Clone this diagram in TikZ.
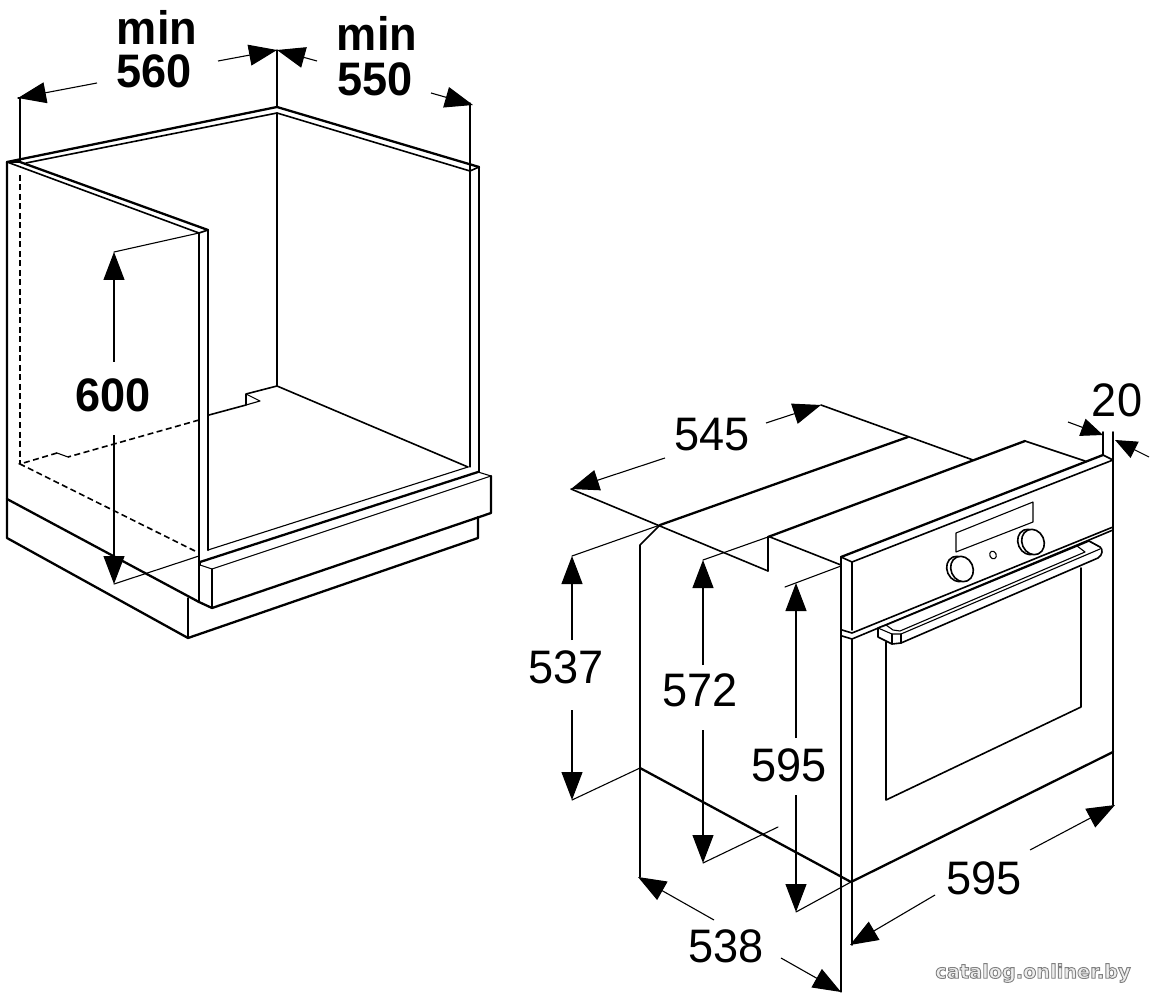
\documentclass[tikz,border=0pt]{standalone}
\usepackage{fontspec}
\setmainfont[FakeStretch=0.96]{Liberation Sans}
\newfontfamily\wmfont{DejaVu Sans}
\usetikzlibrary{arrows.meta}
\tikzset{
  thinl/.style={line width=1.1pt,black,line cap=round,line join=round},
  midl/.style={line width=1.6pt,black,line cap=round,line join=round},
  thickl/.style={line width=2.3pt,black,line cap=round,line join=round},
  dashl/.style={line width=1.6pt,black,dash pattern=on 6pt off 3.5pt},
  dimarrow/.style={line width=1.1pt,black,-{Triangle[length=28pt,width=21pt,sep=0pt]}},
  smallarrow/.style={line width=1.1pt,black,-{Triangle[length=22pt,width=18pt,sep=0pt]}},
  lab/.style={font=\fontsize{47}{47}\selectfont,inner sep=0pt,black},
  blab/.style={font=\fontsize{47}{47}\selectfont\bfseries,inner sep=0pt,black},
  wmtext/.style={inner sep=0pt,font=\wmfont\bfseries\fontsize{19.3}{19.3}\selectfont},
}
\begin{document}
\begin{tikzpicture}[x=1pt,y=-1pt]
\useasboundingbox[fill=white] (0,0) rectangle (1152,1000);

% --- cabinet ---
\draw[thickl] (7,162) -- (277,107) -- (479,167);
\draw[midl] (26,163) -- (277,113) -- (470,171);
\draw[thickl] (20,162) -- (208,230);
\draw[midl] (7,162) -- (199,233);
\draw[midl] (7,162) -- (20,162);
\draw[thickl] (7,162) -- (7,538) -- (188,638) -- (478,538) -- (478,517);
\draw[thickl] (199,233) -- (199,602);
\draw[thickl] (208,230) -- (208,550);
\draw[midl] (199,233) -- (208,230);
\draw[midl] (277,113) -- (277,386);
\draw[thinl] (470,171) -- (470,467);
\draw[thickl] (479,167) -- (479,472);
\draw[midl] (470,171) -- (479,167);
\draw[midl] (277,386) -- (468,467);
\draw[midl] (277,386) -- (246,394) -- (246,405) -- (209,415);
\draw[thinl] (246,394) -- (260,401) -- (246,405);
\draw[dashl] (199,420) -- (68,457);
\draw[thinl] (68,457) -- (57,453);
\draw[dashl] (57,453) -- (20,464) -- (197,552);
\draw[dashl] (20,175) -- (20,464);
\draw[thickl] (7,499) -- (199,602) -- (212,608);
\draw[thinl] (188,598) -- (188,638);
\draw[thinl] (208,550) -- (468,467);
\draw[thickl] (200,562) -- (478,472);
\draw[thinl] (200,565) -- (212,569) -- (491,476);
\draw[thinl] (478,472) -- (491,476);
\draw[midl] (200,562) -- (200,565);
\draw[midl] (212,569) -- (212,608);
\draw[thickl] (212,608) -- (491,513) -- (491,476);

% cabinet dimensions
\coordinate (c560l) at (18,98);
\coordinate (c560r) at (277,50);
\coordinate (c550l) at (277,50);
\coordinate (c550r) at (473,105);
\coordinate (c600t) at (114,252);
\coordinate (c600b) at (114,584);
\node[blab] (tmina) at (157,27) {min};
\node[blab] (t560) at (154,71) {560};
\node[blab] (tminb) at (377,33) {min};
\node[blab] (t550) at (375,79) {550};
\node[blab] (t600) at (113,395) {600};
\coordinate (a1) at (97,83);
\coordinate (a2) at (218,61);
\coordinate (a3) at (317,61);
\coordinate (a4) at (431,93);
\coordinate (a5) at (114,362);
\coordinate (a6) at (114,435);
\draw[dimarrow] (a1) -- (c560l);
\draw[dimarrow] (a2) -- (c560r);
\draw[dimarrow] (a3) -- (c550l);
\draw[dimarrow] (a4) -- (c550r);
\draw[dimarrow] (a5) -- (c600t);
\draw[dimarrow] (a6) -- (c600b);
\draw[thinl] (c560l) -- (20,98) -- (20,162);
\draw[thinl] (c560r) -- (277,107);
\draw[thinl] (470,103) -- (470,171);
\draw[thinl] (c600t) -- (199,233);
\draw[thinl] (c600b) -- (199,556);

% --- oven ---
\draw[midl] (640,877) -- (640,545) -- (660,525);
\draw[thickl] (660,525) -- (908,437);
\draw[thickl] (768,537) -- (1025,441);
\draw[midl] (1025,441) -- (1085,461);
\draw[midl] (768,537) -- (768,571);
\draw[thickl] (640,768) -- (851,882);
\draw[thinl] (841,557) -- (841,992);
\draw[midl] (852,562) -- (852,630);
\draw[midl] (852,639) -- (852,945);
\draw[midl] (841,557) -- (841,632);
\draw[midl] (1113,460) -- (1113,805);
\draw[thickl] (851,882) -- (1113,752);
% front panel
\draw[thickl] (841,557) -- (1103,455);
\draw[midl] (841,557) -- (852,562) -- (1113,460) -- (1103,455);
\draw[midl] (842,630) -- (852,633) -- (1113,527);
\draw[midl] (842,636) -- (852,639) -- (1113,530);
% display and knobs
\draw[thinl] (956,533) -- (1033,502) -- (1033,522) -- (956,552) -- cycle;
\draw[midl,fill=white,rotate around={24:(958,569)}] (958,569) ellipse (11pt and 13pt);
\draw[midl,fill=white,rotate around={24:(962,569)}] (962,569) ellipse (11pt and 13pt);
\draw[midl,fill=white,rotate around={24:(1029,542)}] (1029,542) ellipse (11pt and 13pt);
\draw[midl,fill=white,rotate around={24:(1033,542)}] (1033,542) ellipse (11pt and 13pt);
\draw[thinl,rotate around={24:(993,555)}] (993,555) ellipse (3.2pt and 4pt);
% handle
\draw[midl,fill=white] (878,628) -- (878,637) -- (892,644) -- (901,643) -- (1098,558)
  .. controls (1103,555) and (1103,549) .. (1100,547) -- (1089,541) -- (1077,546) -- (886,625) -- cycle;
\draw[thinl] (886,625) -- (893,630) -- (900,631) -- (1085,552) -- (1077,546);
\draw[thinl] (878,628) -- (892,634) -- (901,634) -- (1100,549);
\draw[thinl] (892,634) -- (892,644);
\draw[thinl] (901,634) -- (901,643);
\draw[thinl] (1089,541) -- (1100,547);
% door window
\draw[midl] (886,642) -- (886,800) -- (1081,707) -- (1081,568);

% oven dimensions
\node[lab] (t545) at (712,435) {545};
\node[lab] (t537) at (566,667) {537};
\node[lab] (t572) at (700,690) {572};
\node[lab] (t595a) at (789,765) {595};
\node[lab] (t595b) at (984,878) {595};
\node[lab] (t538) at (726,946) {538};
\node[lab] (t20) at (1117,400) {20};
\coordinate (d545l) at (571,489);
\coordinate (d545r) at (821,405);
\coordinate (d537t) at (572,556);
\coordinate (d537b) at (572,800);
\coordinate (d572t) at (703,560);
\coordinate (d572b) at (703,863);
\coordinate (d595t) at (796,583);
\coordinate (d595b) at (796,912);
\coordinate (d538l) at (638,877);
\coordinate (d538r) at (841,992);
\coordinate (w595l) at (850,945);
\coordinate (w595r) at (1115,805);
\coordinate (d20l) at (1103,435);
\coordinate (d20r) at (1115,440);
\draw[dimarrow] (665,458) -- (d545l);
\draw[dimarrow] (766,423) -- (d545r);
\draw[dimarrow] (572,640) -- (d537t);
\draw[dimarrow] (572,710) -- (d537b);
\draw[dimarrow] (703,665) -- (d572t);
\draw[dimarrow] (703,730) -- (d572b);
\draw[dimarrow] (796,738) -- (d595t);
\draw[dimarrow] (796,795) -- (d595b);
\draw[dimarrow] (714,920) -- (d538l);
\draw[dimarrow] (781,958) -- (d538r);
\draw[dimarrow] (935,895) -- (w595l);
\draw[dimarrow] (1030,850) -- (w595r);
\draw[smallarrow] (1068,422) -- (d20l);
\draw[smallarrow] (1149,457) -- (d20r);
\draw[midl] (d545r) -- (973,460);
\draw[midl] (d545l) -- (768,571);
\draw[midl] (770,537) -- (841,565);
\draw[thinl] (d537t) -- (660,525);
\draw[thinl] (d537b) -- (640,768);
\draw[thinl] (d572t) -- (768,537);
\draw[thinl] (d572b) -- (778,827);
\draw[thinl] (785,587) -- (841,566);
\draw[thinl] (d595b) -- (851,882);
\draw[midl] (1103,432) -- (1103,455);
\draw[midl] (1113,432) -- (1113,460);

% watermark: a white text with a grey outline, as one text
\node[wmtext] (wm) at (1033,973) {\special{pdf:code q 2 Tr 0.9 w 0.5 G 0.93 g}catalog.onliner.by\special{pdf:code Q}};
\end{tikzpicture}
\end{document}
